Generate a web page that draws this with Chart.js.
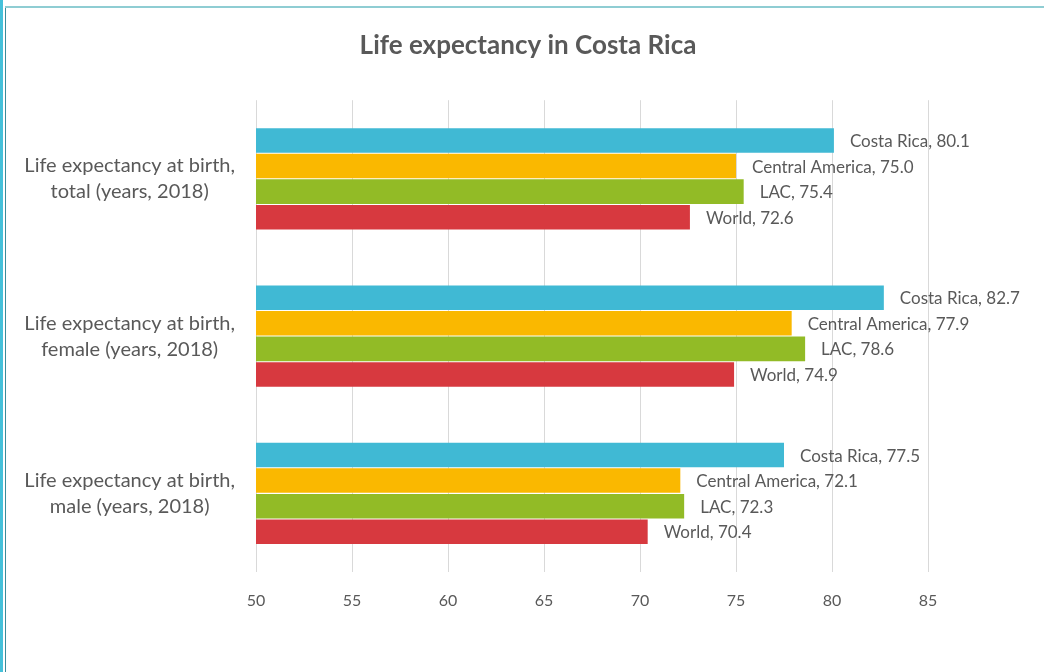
<!DOCTYPE html>
<html>
<head>
<meta charset="utf-8">
<title>Life expectancy in Costa Rica</title>
<script src="https://cdn.jsdelivr.net/npm/chart.js@4/dist/chart.umd.min.js"></script>
<style>
  html, body { margin: 0; padding: 0; background: #fff; }
  body { width: 1044px; height: 672px; position: relative; overflow: hidden; }
  /* page frame */
  .strip { position: absolute; left: 0; top: 0; width: 3px; height: 672px; background: #45c1da; }
  .edge  { position: absolute; left: 5px; top: 6px; width: 1px; height: 666px; background: #3a8d9c; }
  .topline { position: absolute; left: 5px; top: 6px; width: 1039px; height: 2px; background: #8fcdd3; }
  .wrap { position: absolute; left: 12px; top: 0; width: 1032px; height: 672px; }
</style>
</head>
<body>
<div class="strip"></div>
<div class="edge"></div>
<div class="topline"></div>
<div class="wrap"><canvas id="chart"></canvas></div>
<script>
// ─── Data ────────────────────────────────────────────────────────────────────
const categories = [
  ['Life expectancy at birth,', 'total (years, 2018)'],
  ['Life expectancy at birth,', 'female (years, 2018)'],
  ['Life expectancy at birth,', 'male (years, 2018)'],
];
const seriesNames = ['Costa Rica', 'Central America', 'LAC', 'World'];
const costaRica      = [80.1, 82.7, 77.5];
const centralAmerica = [75.0, 77.9, 72.1];
const lac            = [75.4, 78.6, 72.3];
const world          = [72.6, 74.9, 70.4];
const xTicks = [50, 55, 60, 65, 70, 75, 80, 85];

const seriesColors = ['#40b9d4', '#fab800', '#92bb26', '#d7393f'];
const textColor = '#595959';
const fontFamily = "Lato, 'Open Sans', sans-serif";

// ─── Value labels drawn to the right of each bar ─────────────────────────────
const barLabels = {
  id: 'barLabels',
  afterDatasetsDraw(chart) {
    const { ctx } = chart;
    ctx.save();
    ctx.font = `17px ${fontFamily}`;
    ctx.fillStyle = textColor;
    ctx.textAlign = 'left';
    ctx.textBaseline = 'middle';
    chart.data.datasets.forEach((ds, i) => {
      const meta = chart.getDatasetMeta(i);
      meta.data.forEach((bar, j) => {
        ctx.fillText(`${ds.label}, ${ds.data[j].toFixed(1)}`, bar.x + 16, bar.y + 1);
      });
    });
    ctx.restore();
  }
};

const values = [costaRica, centralAmerica, lac, world];

new Chart(document.getElementById('chart'), {
  type: 'bar',
  data: {
    labels: categories,
    datasets: seriesNames.map((name, i) => ({
      label: name,
      data: values[i],
      backgroundColor: seriesColors[i],
      categoryPercentage: 0.65,
      barPercentage: 0.96,
    }))
  },
  options: {
    indexAxis: 'y',
    responsive: true,
    maintainAspectRatio: false,
    animation: false,
    plugins: {
      legend: { display: false },
      tooltip: { enabled: false },
      title: {
        display: true,
        text: 'Life expectancy in Costa Rica',
        color: textColor,
        font: { family: fontFamily, size: 26, weight: 'bold' },
        padding: { top: 30, bottom: 39 },
      },
    },
    scales: {
      x: {
        type: 'linear',
        min: 50,
        max: 85,
        afterBuildTicks: scale => { scale.ticks = xTicks.map(v => ({ value: v })); },
        border: { display: false },
        grid: { color: '#d9d9d9', lineWidth: 1, drawTicks: false },
        ticks: { color: textColor, padding: 19, font: { family: fontFamily, size: 16 } },
        afterFit: scale => { scale.height = 100; },
      },
      y: {
        border: { display: false },
        grid: { display: false, drawTicks: false },
        ticks: {
          color: textColor,
          crossAlign: 'center',
          padding: 21,
          font: { family: fontFamily, size: 20, lineHeight: 1.3 },
        },
        afterFit: scale => { scale.width = 244; },
      },
      // empty right-hand strip that leaves room for the value labels
      yRight: {
        type: 'linear',
        position: 'right',
        border: { display: false },
        grid: { display: false, drawTicks: false },
        ticks: { display: false },
        afterFit: scale => { scale.width = 116; },
      }
    }
  },
  plugins: [barLabels]
});
</script>
</body>
</html>
